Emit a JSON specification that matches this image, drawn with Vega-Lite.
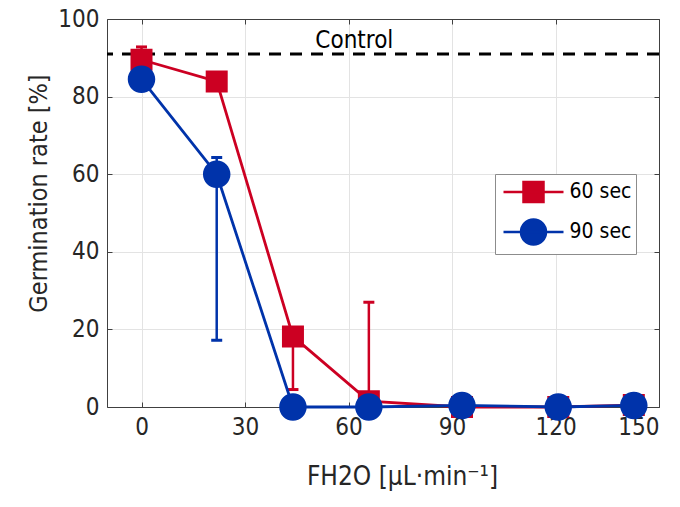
{
  "$schema": "https://vega.github.io/schema/vega-lite/v6.json",
  "autosize": {"type": "none"},
  "padding": {"left": 107, "top": 19, "right": 21, "bottom": 100},
  "width": 552,
  "height": 388,
  "background": "white",
  "config": {
    "font": "DejaVu Sans Condensed, Liberation Sans",
    "view": {"stroke": null},
    "axis": {
      "labelFont": "DejaVu Sans Condensed, Liberation Sans",
      "titleFont": "DejaVu Sans Condensed, Liberation Sans",
      "labelFontSize": 24,
      "titleFontSize": 25,
      "titleFontWeight": "normal",
      "labelColor": "#262626",
      "titleColor": "#262626",
      "domainColor": "#404040",
      "tickColor": "#404040",
      "domainWidth": 1,
      "tickWidth": 1,
      "gridColor": "#e3e3e3",
      "gridWidth": 1
    }
  },
  "datasets": {
    "pts": [
      {"series": "60 sec", "x": 0, "y": 89.5},
      {"series": "60 sec", "x": 21.8, "y": 83.9},
      {"series": "60 sec", "x": 43.9, "y": 18.2},
      {"series": "60 sec", "x": 65.9, "y": 1.5},
      {"series": "60 sec", "x": 92.9, "y": 0},
      {"series": "60 sec", "x": 120.8, "y": 0},
      {"series": "60 sec", "x": 142.7, "y": 0.5},
      {"series": "90 sec", "x": 0, "y": 84.5},
      {"series": "90 sec", "x": 21.8, "y": 60.0},
      {"series": "90 sec", "x": 43.9, "y": 0},
      {"series": "90 sec", "x": 65.9, "y": 0},
      {"series": "90 sec", "x": 92.9, "y": 0.4},
      {"series": "90 sec", "x": 120.8, "y": 0},
      {"series": "90 sec", "x": 142.7, "y": 0.4}
    ],
    "err": [
      {"series": "60 sec", "x": 0, "lo": 86.5, "hi": 92.8},
      {"series": "60 sec", "x": 43.9, "lo": 4.5, "hi": 18.2},
      {"series": "60 sec", "x": 65.9, "lo": 1.5, "hi": 27.0},
      {"series": "90 sec", "x": 21.8, "lo": 17.2, "hi": 64.3}
    ],
    "ctrl": [{"y": 91, "x": 61.7, "ty": 94.3, "label": "Control"}]
  },
  "layer": [
    {
      "layer": [
        {
          "data": {"name": "ctrl"},
          "mark": {"type": "rule", "color": "black", "strokeWidth": 3, "strokeDash": [12, 9]},
          "encoding": {
            "y": {"field": "y", "type": "quantitative", "scale": {"domain": [0, 100]},
              "axis": {"values": [0, 20, 40, 60, 80, 100], "tickSize": -5, "labelPadding": 13, "title": "Germination rate [%]", "titlePadding": 6, "titleY": 174, "grid": true}}
          }
        },
        {
          "data": {"name": "ctrl"},
          "mark": {"type": "text", "font": "DejaVu Sans Condensed, Liberation Sans", "fontSize": 24, "color": "black", "baseline": "middle", "align": "center"},
          "encoding": {
            "x": {"field": "x", "type": "quantitative"},
            "y": {"field": "ty", "type": "quantitative"},
            "text": {"field": "label"}
          }
        },
        {
          "data": {"name": "err"},
          "mark": {"type": "rule", "strokeWidth": 2.5},
          "encoding": {
            "x": {"field": "x", "type": "quantitative"},
            "y": {"field": "lo", "type": "quantitative"},
            "y2": {"field": "hi"},
            "color": {"field": "series", "type": "nominal"}
          }
        },
        {
          "data": {"name": "err"},
          "mark": {"type": "tick", "orient": "horizontal", "size": 11, "thickness": 3, "opacity": 1},
          "encoding": {
            "x": {"field": "x", "type": "quantitative"},
            "y": {"field": "hi", "type": "quantitative"},
            "color": {"field": "series", "type": "nominal"}
          }
        },
        {
          "data": {"name": "err"},
          "mark": {"type": "tick", "orient": "horizontal", "size": 11, "thickness": 3, "opacity": 1},
          "encoding": {
            "x": {"field": "x", "type": "quantitative"},
            "y": {"field": "lo", "type": "quantitative"},
            "color": {"field": "series", "type": "nominal"}
          }
        },
        {
          "data": {"name": "pts"},
          "mark": {"type": "line", "strokeWidth": 2.8},
          "encoding": {
            "x": {"field": "x", "type": "quantitative", "scale": {"domain": [-10, 150], "nice": false},
              "axis": {"values": [0, 30, 60, 90, 120, 150], "tickSize": -5, "labelPadding": 13, "title": "FH2O [μL·min⁻¹]", "titleFontSize": 26, "titlePadding": 24, "titleX": 295, "grid": true}},
            "y": {"field": "y", "type": "quantitative"},
            "color": {"field": "series", "type": "nominal"}
          }
        },
        {
          "data": {"name": "pts"},
          "mark": {"type": "point", "filled": true, "opacity": 1, "strokeWidth": 0, "size": 756},
          "encoding": {
            "x": {"field": "x", "type": "quantitative"},
            "y": {"field": "y", "type": "quantitative"},
            "color": {"field": "series", "type": "nominal",
              "scale": {"domain": ["60 sec", "90 sec"], "range": ["#cc0022", "#0033aa"]},
              "legend": {
                "title": null, "orient": "none", "legendX": 388, "legendY": 155,
                "labelFont": "DejaVu Sans Condensed, Liberation Sans", "labelFontSize": 21, "labelColor": "black",
                "symbolSize": 625, "symbolStrokeWidth": 2.5, "symbolOffset": 20.5, "rowPadding": 7, "labelOffset": 22,
                "strokeColor": "#8c8c8c", "fillColor": "white", "padding": 4, "cornerRadius": 0,
                "encode": {"symbols": {"update": {"stroke": {"scale": "color", "field": "value"}, "strokeWidth": {"value": 2.5}, "opacity": {"value": 1}}}}
              }},
            "shape": {"field": "series", "type": "nominal",
              "scale": {"domain": ["60 sec", "90 sec"], "range": [
                "M-2.4,0H2.4M-0.8,-0.8H0.8V0.8H-0.8Z",
                "M-2.4,0H2.4M-1,0A1,1 0 1,0 1,0A1,1 0 1,0 -1,0Z"
              ]}}
          }
        }
      ]
    },
    {
      "data": {"name": "pts"},
      "mark": {"type": "point", "opacity": 0},
      "encoding": {
        "x": {"field": "x", "type": "quantitative", "axis": {"orient": "top", "values": [0, 30, 60, 90, 120, 150], "tickSize": -5, "labels": false, "title": null, "grid": false}},
        "y": {"field": "y", "type": "quantitative", "axis": {"orient": "right", "values": [0, 20, 40, 60, 80, 100], "tickSize": -5, "labels": false, "title": null, "grid": false}}
      }
    }
  ],
  "resolve": {"axis": {"x": "independent", "y": "independent"}}
}
